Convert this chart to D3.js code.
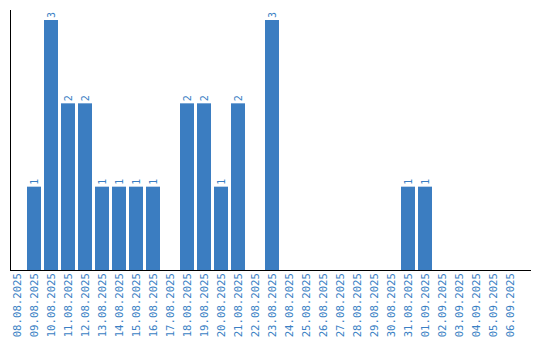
<!DOCTYPE html>
<html>
<head>
<meta charset="UTF-8">
<style>
  body { margin: 0; background: #fff; }
  svg text { font-family: "DejaVu Sans Mono", monospace; fill: #3a7fc4; }
</style>
</head>
<body>
<svg width="540" height="340"></svg>
<script src="https://cdnjs.cloudflare.com/ajax/libs/d3/7.8.5/d3.min.js"></script>
<script>
  // dates and counts
  const dates = ['08.08.2025', '09.08.2025', '10.08.2025', '11.08.2025', '12.08.2025',
    '13.08.2025', '14.08.2025', '15.08.2025', '16.08.2025', '17.08.2025',
    '18.08.2025', '19.08.2025', '20.08.2025', '21.08.2025', '22.08.2025',
    '23.08.2025', '24.08.2025', '25.08.2025', '26.08.2025', '27.08.2025',
    '28.08.2025', '29.08.2025', '30.08.2025', '31.08.2025', '01.09.2025',
    '02.09.2025', '03.09.2025', '04.09.2025', '05.09.2025', '06.09.2025'];
  const counts = [0, 1, 3, 2, 2, 1, 1, 1, 1, 0,
    2, 2, 1, 2, 0, 3, 0, 0, 0, 0,
    0, 0, 0, 1, 1, 0, 0, 0, 0, 0];

  const data = dates.map((d, i) => ({ date: d, count: counts[i] }));

  var svg = d3.select('svg');
  var mLeft = 10, mRight = 531, mTop = 10, mBottom = 270;

  // 17px per day, bars 14px wide
  var x = d3.scaleBand().domain(dates).range([mLeft, mLeft + 17 * 30 - 3]).paddingInner(3 / 17).paddingOuter(0);
  var y = d3.scaleLinear().domain([0, 3.12]).range([mBottom, mTop]);

  // bars
  svg.append('g').selectAll('rect')
    .data(data.filter(d => d.count > 0))
    .enter().append('rect')
    .attr('x', d => x(d.date))
    .attr('y', d => y(d.count))
    .attr('width', x.bandwidth())
    .attr('height', d => y(0) - y(d.count))
    .attr('fill', '#3b7dc1');

  // value labels above bars
  svg.append('g').selectAll('text')
    .data(data.filter(d => d.count > 0))
    .enter().append('text')
    .attr('transform', d => 'translate(' + (x(d.date) + x.bandwidth() / 2 + 3.5) + ',' + (y(d.count) - 2) + ') rotate(-90)')
    .attr('font-size', 10)
    .text(d => d.count);

  // x axis
  var xAxis = svg.append('g')
    .attr('transform', 'translate(0,' + mBottom + ')')
    .call(d3.axisBottom(x).tickSize(0).tickPadding(0));
  xAxis.select('.domain').attr('stroke', '#000').attr('d', 'M' + mLeft + ',0.5H' + mRight);
  xAxis.selectAll('text')
    .attr('font-size', 10.7)
    .attr('text-anchor', 'end')
    .attr('dy', null)
    .attr('y', 0)
    .attr('transform', 'translate(4,3) rotate(-90)');

  // y axis line only
  svg.append('line')
    .attr('x1', mLeft + 0.5).attr('x2', mLeft + 0.5)
    .attr('y1', mTop).attr('y2', mBottom)
    .attr('stroke', '#000');
</script>
</body>
</html>
